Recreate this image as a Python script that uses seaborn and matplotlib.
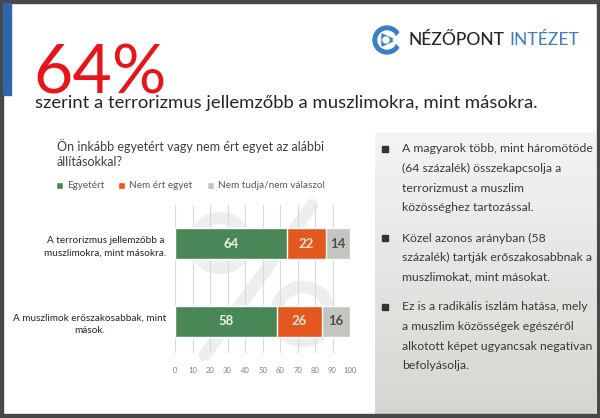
import matplotlib
matplotlib.use("Agg")
import matplotlib.pyplot as plt
import numpy as np
import pandas as pd
import seaborn as sns
from matplotlib.patches import Circle, Polygon, Rectangle

W, H = 600, 418

statements = [
    "A terrorizmus jellemzőbb a\nmuszlimokra, mint másokra.",
    "A muszlimok erőszakosabbak, mint\nmások.",
]
agree = [64, 58]
disagree = [22, 26]
dont_know = [14, 16]
series_names = ["Egyetért", "Nem ért egyet", "Nem tudja/nem válaszol"]
series_colors = ["#4a8756", "#e2581f", "#c4c4c0"]
value_colors = ["#eaf4de", "#fde6d4", "#4d4d4d"]
x_ticks = list(range(0, 101, 10))

headline = "64%"
subtitle = "szerint a terrorizmus jellemzőbb a muszlimokra, mint másokra."
question = ["Ön inkább egyetért vagy nem ért egyet az alábbi", "állításokkal?"]
bullets = [
    ["A magyarok több, mint háromötöde", "(64 százalék) összekapcsolja a",
     "terrorizmust a muszlim", "közösséghez tartozással."],
    ["Közel azonos arányban (58", "százalék) tartják erőszakosabbnak a",
     "muszlimokat, mint másokat."],
    ["Ez is a radikális iszlám hatása, mely", "a muszlim közösségek egészéről",
     "alkotott képet ugyancsak negatívan", "befolyásolja."],
]

sns.set_theme(style="white")
plt.rcParams["font.family"] = ["Lato", "DejaVu Sans"]

fig = plt.figure(figsize=(W / 100, H / 100), dpi=100)
fig.patch.set_facecolor("white")

# slide background in pixel coordinates
bg = fig.add_axes([0, 0, 1, 1])
bg.set_xlim(0, W)
bg.set_ylim(H, 0)
bg.axis("off")

# right text panel with a soft vertical gradient
grad = np.linspace(0, 1, 256)[:, None]
panel_cmap = matplotlib.colors.LinearSegmentedColormap.from_list("panel", ["#f4f4f4", "#d5d5d1"])
bg.imshow(grad, cmap=panel_cmap, extent=[375, 596, 415, 133], aspect="auto", zorder=1)

# frame and blue accent bar
border = "#484848"
for rect in [(0, 0, W, 3), (0, H - 4, W, 4), (0, 0, 3, H), (W - 3, 0, 3, H)]:
    bg.add_patch(Rectangle(rect[:2], rect[2], rect[3], color=border, zorder=5))
bg.add_patch(Rectangle((3, 3), 8, 92, color="#2f66aa", zorder=5))

# faint percent watermark behind the chart
wm = "#eeeeee"
bg.add_patch(Circle((220, 243), 25, fill=False, ec=wm, lw=9, zorder=0))
bg.add_patch(Circle((303, 314), 27, fill=False, ec=wm, lw=9, zorder=0))
bg.plot([312, 205], [205, 355], color=wm, lw=9, solid_capstyle="round", zorder=0)

# headline
bg.text(33, 93, headline, fontsize=49, color="#e8141b", va="baseline", zorder=3)
bg.text(35, 103, subtitle, fontsize=13.3, color="#262626", va="center", zorder=3)

# logo
cx, cy = 387, 40
bg.add_patch(Circle((cx, cy), 14, color="#3a7fc1", zorder=3))
bg.add_patch(Circle((cx, cy), 9, color="white", zorder=3))
bg.add_patch(Polygon([(cx - 5, cy - 6), (cx + 8, cy), (cx - 5, cy + 6)], color="#3a7fc1", zorder=3))
bg.add_patch(Circle((cx - 1, cy), 3, color="white", zorder=3))
bg.add_patch(Polygon([(cx + 6, cy), (cx + 15, cy - 9), (cx + 15, cy + 9)], color="white", zorder=3))
logo = bg.text(409, 40, "NÉZŐPONT", fontsize=12.6, color="#262626", va="center",
               fontweight="medium", zorder=3)
bg.annotate("INTÉZET", xy=(1, 0.5), xycoords=logo, xytext=(3.5, 0), textcoords="offset points",
            fontsize=12.6, color="#3d7fc0", va="center", zorder=3)

# question
for i, line in enumerate(question):
    bg.text(57, 146 + 16 * i, line, fontsize=9, color="#404040", va="center", zorder=3)

# bullet list
bullet_tops = [149, 238, 307]
for top, lines in zip(bullet_tops, bullets):
    bg.add_patch(Rectangle((382, top - 3.5), 6, 6, color="#333333", zorder=3))
    for j, line in enumerate(lines):
        bg.text(402, top + 19.5 * j, line, fontsize=8.8, color="#3a3a3a", va="center", zorder=3)

# stacked bar chart
df = pd.DataFrame({"statement": statements, "agree": agree,
                   "disagree": disagree, "dont_know": dont_know})
df["cum_agree"] = df["agree"]
df["cum_disagree"] = df["agree"] + df["disagree"]
df["cum_dont_know"] = df["cum_disagree"] + df["dont_know"]

ax = fig.add_axes([175 / W, (H - 353) / H, 175 / W, 148 / H])
ax.patch.set_alpha(0)
for col, name, color in reversed(list(zip(["cum_agree", "cum_disagree", "cum_dont_know"],
                                          series_names, series_colors))):
    sns.barplot(data=df, x=col, y="statement", orient="y", color=color, width=0.4,
                saturation=1, label=name, ax=ax, zorder=3)

for i, row in df.iterrows():
    left = 0
    for col, tcolor in zip(["agree", "disagree", "dont_know"], value_colors):
        val = row[col]
        ax.text(left + val / 2, i, str(val), ha="center", va="center", fontsize=9.5,
                color=tcolor, fontweight="bold", zorder=4)
        left += val

ax.set_xlim(0, 100)
ax.set_ylim(1.404, -0.494)
ax.set_xticks(x_ticks)
ax.set_axisbelow(True)
ax.xaxis.grid(True, color="#d9d9d9", linewidth=0.8)
ax.yaxis.grid(False)
for s in ax.spines.values():
    s.set_visible(False)
ax.tick_params(axis="x", length=0, labelsize=5.5, colors="#808080", pad=10)
ax.tick_params(axis="y", length=0, labelsize=7.2, colors="#262626", pad=6)
for lab in ax.get_yticklabels():
    lab.set_multialignment("center")
    lab.set_linespacing(1.55)
ax.set_xlabel("")
ax.set_ylabel("")

handles, labels = ax.get_legend_handles_labels()
leg = ax.legend(handles[::-1], labels[::-1], ncol=3, loc="center left",
                bbox_to_anchor=(56 / W, (H - 186) / H), bbox_transform=fig.transFigure,
                frameon=False, fontsize=7.2, handlelength=0.7, handleheight=0.7,
                handletextpad=0.4, columnspacing=1.4, borderpad=0, borderaxespad=0)
for t in leg.get_texts():
    t.set_color("#595959")

fig.savefig("out.png", dpi=100)
